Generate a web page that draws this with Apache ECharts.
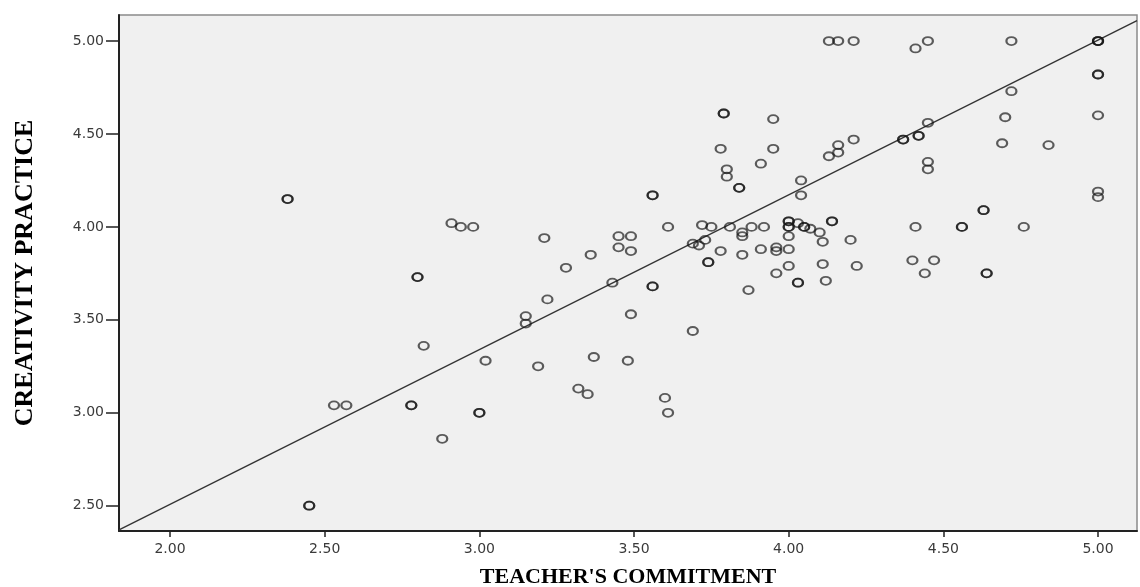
<!DOCTYPE html>
<html>
<head>
<meta charset="utf-8">
<script src="https://cdn.jsdelivr.net/npm/echarts@6/dist/echarts.min.js"></script>
<style>
html,body{margin:0;padding:0;background:#fff;}
#chart{width:1140px;height:587px;}
</style>
</head>
<body>
<div id="chart"></div>
<script>
// teacher's commitment (x) vs creativity practice (y)
// thick rings in the source = overlapping cases, so they are listed twice
var commitment = [
	2.38,2.38, 2.91,2.94,2.98, 2.80,2.80, 2.82, 2.53,2.57, 2.78,2.78, 2.88, 2.45,2.45,
	3.56,3.56, 3.61, 3.72, 3.21, 3.45,3.49, 3.45,3.49, 3.36, 3.28, 3.69,3.71,3.73,
	3.74,3.74, 3.43, 3.56,3.56, 3.22, 3.15,3.15, 3.49, 3.69, 3.02, 3.19, 3.37, 3.48,
	3.32,3.35, 3.60, 3.00,3.00, 3.61,
	3.79,3.79, 3.95, 3.78, 3.95, 4.16, 4.21, 4.13, 4.16, 3.91, 3.80, 3.80, 3.84,3.84,
	4.04, 4.04, 3.75, 3.81, 3.88, 3.92, 4.00,4.00, 4.00,4.00, 4.03, 4.05,4.05, 4.07, 4.10,
	4.14,4.14, 4.00, 4.11, 4.20, 3.85,3.85, 3.78, 3.85, 3.91, 3.96,3.96, 4.00, 4.00,
	4.11, 4.22, 3.96, 4.03,4.03, 4.12, 3.87,
	4.13,4.16,4.21, 4.45, 4.41, 4.72, 5.00,5.00,5.00, 5.00,5.00, 4.72, 5.00, 4.70, 4.45,
	4.37,4.37, 4.42,4.42, 4.69, 4.84, 4.45,4.45, 5.00,5.00, 4.63,4.63, 4.41, 4.56,4.56,
	4.76, 4.40,4.47, 4.44, 4.64,4.64
];
var practice = [
	4.15,4.15, 4.02,4.00,4.00, 3.73,3.73, 3.36, 3.04,3.04, 3.04,3.04, 2.86, 2.50,2.50,
	4.17,4.17, 4.00, 4.01, 3.94, 3.95,3.95, 3.89,3.87, 3.85, 3.78, 3.91,3.90,3.93,
	3.81,3.81, 3.70, 3.68,3.68, 3.61, 3.52,3.48, 3.53, 3.44, 3.28, 3.25, 3.30, 3.28,
	3.13,3.10, 3.08, 3.00,3.00, 3.00,
	4.61,4.61, 4.58, 4.42, 4.42, 4.44, 4.47, 4.38, 4.40, 4.34, 4.31, 4.27, 4.21,4.21,
	4.25, 4.17, 4.00, 4.00, 4.00, 4.00, 4.03,4.03, 4.00,4.00, 4.02, 4.00,4.00, 3.99, 3.97,
	4.03,4.03, 3.95, 3.92, 3.93, 3.95,3.97, 3.87, 3.85, 3.88, 3.89,3.87, 3.88, 3.79,
	3.80, 3.79, 3.75, 3.70,3.70, 3.71, 3.66,
	5.00,5.00,5.00, 5.00, 4.96, 5.00, 5.00,5.00,5.00, 4.82,4.82, 4.73, 4.60, 4.59, 4.56,
	4.47,4.47, 4.49,4.49, 4.45, 4.44, 4.35,4.31, 4.19,4.16, 4.09,4.09, 4.00, 4.00,4.00,
	4.00, 3.82,3.82, 3.75, 3.75,3.75
];
// fit line end points (at the edges of the plot)
var fitX = [1.835, 5.126];
var fitY = [2.37, 5.11];
var xTicks = [2.00, 2.50, 3.00, 3.50, 4.00, 4.50, 5.00];
var yTicks = [2.50, 3.00, 3.50, 4.00, 4.50, 5.00];

var points = [];
for (var i = 0; i < commitment.length; i++) { points.push([commitment[i], practice[i]]); }
var fitData = [[fitX[0], fitY[0]], [fitX[1], fitY[1]]];

var chart = echarts.init(document.getElementById('chart'), null, {renderer: 'canvas'});
var option = {
	backgroundColor: '#fff',
	animation: false,
	grid: {left: 119, top: 15, right: 3, bottom: 56, containLabel: false, outerBoundsMode: 'none',
		show: true, backgroundColor: '#f0f0f0', borderColor: '#8a8a8a', borderWidth: 1.5},
	xAxis: {
		type: 'value', min: 1.835, max: 5.126,
		name: "TEACHER'S COMMITMENT", nameLocation: 'middle', nameGap: 35,
		nameTextStyle: {fontFamily: 'Liberation Serif', fontWeight: 'bold', fontSize: 22, color: '#000'},
		axisLine: {show: true, lineStyle: {color: '#222', width: 2}},
		axisTick: {show: true, length: 6, customValues: xTicks, lineStyle: {color: '#222', width: 1.5}},
		axisLabel: {customValues: xTicks, margin: 11, fontFamily: 'DejaVu Sans', fontSize: 14, color: '#3a3a3a',
			formatter: function (v) { return v.toFixed(2); }},
		splitLine: {show: false}
	},
	yAxis: {
		type: 'value', min: 2.364, max: 5.14,
		name: 'CREATIVITY PRACTICE', nameLocation: 'middle', nameGap: 81,
		nameTextStyle: {fontFamily: 'Liberation Serif', fontWeight: 'bold', fontSize: 26, color: '#000'},
		axisLine: {show: true, lineStyle: {color: '#222', width: 2}},
		axisTick: {show: true, length: 13, customValues: yTicks, lineStyle: {color: '#222', width: 1.5}},
		axisLabel: {customValues: yTicks, margin: 15, fontFamily: 'DejaVu Sans', fontSize: 14, color: '#3a3a3a',
			formatter: function (v) { return v.toFixed(2); }},
		splitLine: {show: false}
	},
	series: [
		{
			type: 'line', data: fitData, symbol: 'none', silent: true, z: 1,
			lineStyle: {color: '#333', width: 1.3}
		},
		{
			type: 'scatter', data: points, symbol: 'circle', symbolSize: [10, 8], z: 2,
			itemStyle: {color: 'rgba(0,0,0,0)', borderColor: 'rgba(20,20,20,0.85)', borderWidth: 2}
		}
	]
};
chart.setOption(option);
</script>
</body>
</html>
